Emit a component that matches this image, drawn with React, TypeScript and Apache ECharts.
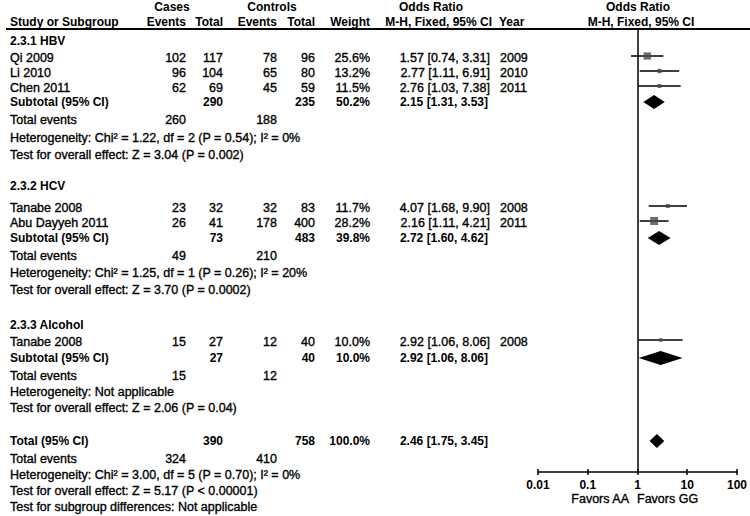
import React, { useEffect, useRef } from "react";
import * as echarts from "echarts";

// ---------- data ----------
const studyNames = ["Qi 2009", "Li 2010", "Chen 2011", "Tanabe 2008", "Abu Dayyeh 2011", "Tanabe 2008"];
const studyGroup = [0, 0, 0, 1, 1, 2];
const casesEvents = [102, 96, 62, 23, 26, 15];
const casesTotal = [117, 104, 69, 32, 41, 27];
const controlsEvents = [78, 65, 45, 32, 178, 12];
const controlsTotal = [96, 80, 59, 83, 400, 40];
const studyWeight = [25.6, 13.2, 11.5, 11.7, 28.2, 10.0];
const studyOR = [1.57, 2.77, 2.76, 4.07, 2.16, 2.92];
const studyLow = [0.74, 1.11, 1.03, 1.68, 1.11, 1.06];
const studyHigh = [3.31, 6.91, 7.38, 9.9, 4.21, 8.06];
const studyYear = [2009, 2010, 2011, 2008, 2011, 2008];

const groupNames = ["2.3.1 HBV", "2.3.2 HCV", "2.3.3 Alcohol"];
const groupCasesTotal = [290, 73, 27];
const groupControlsTotal = [235, 483, 40];
const groupWeight = [50.2, 39.8, 10.0];
const groupOR = [2.15, 2.72, 2.92];
const groupLow = [1.31, 1.6, 1.06];
const groupHigh = [3.53, 4.62, 8.06];
const groupCasesEvents = [260, 49, 15];
const groupControlsEvents = [188, 210, 12];
const groupHeterogeneity = [
  "Heterogeneity: Chi² = 1.22, df = 2 (P = 0.54); I² = 0%",
  "Heterogeneity: Chi² = 1.25, df = 1 (P = 0.26); I² = 20%",
  "Heterogeneity: Not applicable",
];
const groupEffect = [
  "Test for overall effect: Z = 3.04 (P = 0.002)",
  "Test for overall effect: Z = 3.70 (P = 0.0002)",
  "Test for overall effect: Z = 2.06 (P = 0.04)",
];

const totalLabel = "Total (95% CI)";
const totalCases = 390;
const totalControls = 758;
const totalWeight = 100.0;
const totalOR = 2.46;
const totalLow = 1.75;
const totalHigh = 3.45;
const totalCasesEvents = 324;
const totalControlsEvents = 410;
const totalHeterogeneity = "Heterogeneity: Chi² = 3.00, df = 5 (P = 0.70); I² = 0%";
const totalEffect = "Test for overall effect: Z = 5.17 (P < 0.00001)";
const subgroupDifferences = "Test for subgroup differences: Not applicable";

const axisTickValues = [0.01, 0.1, 1, 10, 100];
const axisTickLabels = ["0.01", "0.1", "1", "10", "100"];
const favorsLeft = "Favors AA";
const favorsRight = "Favors GG";

// ---------- layout ----------
const FONT = '"Liberation Sans", Arial, Helvetica, sans-serif';
const LINE_Y = [41, 58, 73, 88, 102, 120, 138, 155, 186, 208, 223, 238, 256, 273, 290, 325, 342, 358, 376, 392, 408, 441, 459, 475, 491, 507];
const MARK_SHIFT = -2;
const COL = { name: 10, cEv: 186, cTot: 223, kEv: 277, kTot: 315, wt: 370, or: 490, year: 500 };
const GRID = { left: 538, right: 12, top: 29, bottom: 44 };
const Y_MIN = 29;
const Y_MAX = 472;

function txt(text: string, x: number, y: number, align = "left", bold = false) {
  return {
    type: "text",
    x,
    y,
    silent: true,
    style: {
      text,
      fill: "#000",
      stroke: bold ? undefined : "#000",
      lineWidth: bold ? 0 : 0.35,
      font: bold ? `bold 12px ${FONT}` : `12.5px ${FONT}`,
      textAlign: align,
      textVerticalAlign: "middle",
      align,
      verticalAlign: "middle",
    },
  };
}

const fmtOR = (o: number, l: number, h: number) => `${o.toFixed(2)} [${l.toFixed(2)}, ${h.toFixed(2)}]`;
const fmtW = (w: number) => `${w.toFixed(1)}%`;

export default function App() {
  const ref = useRef<HTMLDivElement>(null);

  useEffect(() => {
    document.body.style.margin = "0";
    const chart = echarts.init(ref.current!, null, { renderer: "svg" });

    const texts: any[] = [];
    const ciData: number[][] = [];
    const sqData: any[] = [];
    const diaData: number[][] = [];

    // headers
    texts.push(txt("Cases", 172, 7, "center", true));
    texts.push(txt("Controls", 272, 7, "center", true));
    texts.push(txt("Odds Ratio", 431, 7, "center", true));
    texts.push(txt("Odds Ratio", 638, 7, "center", true));
    texts.push(txt("Study or Subgroup", COL.name, 22, "left", true));
    texts.push(txt("Events", COL.cEv, 22, "right", true));
    texts.push(txt("Total", COL.cTot, 22, "right", true));
    texts.push(txt("Events", COL.kEv, 22, "right", true));
    texts.push(txt("Total", COL.kTot, 22, "right", true));
    texts.push(txt("Weight", COL.wt, 22, "right", true));
    texts.push(txt("M-H, Fixed, 95% CI", COL.or + 2, 22, "right", true));
    texts.push(txt("Year", COL.year - 1, 22, "left", true));
    texts.push(txt("M-H, Fixed, 95% CI", 641, 22, "center", true));

    let li = 0;
    let s = 0;
    groupNames.forEach((g, gi) => {
      texts.push(txt(g, COL.name, LINE_Y[li++], "left", true));
      while (s < studyNames.length && studyGroup[s] === gi) {
        const y = LINE_Y[li++];
        texts.push(txt(studyNames[s], COL.name, y));
        texts.push(txt(String(casesEvents[s]), COL.cEv, y, "right"));
        texts.push(txt(String(casesTotal[s]), COL.cTot, y, "right"));
        texts.push(txt(String(controlsEvents[s]), COL.kEv, y, "right"));
        texts.push(txt(String(controlsTotal[s]), COL.kTot, y, "right"));
        texts.push(txt(fmtW(studyWeight[s]), COL.wt, y, "right"));
        texts.push(txt(fmtOR(studyOR[s], studyLow[s], studyHigh[s]), COL.or, y, "right"));
        texts.push(txt(String(studyYear[s]), COL.year, y));
        ciData.push([studyLow[s], studyHigh[s], y + MARK_SHIFT]);
        sqData.push({ value: [studyOR[s], y + MARK_SHIFT], symbolSize: 1.2 + studyWeight[s] * 0.24 });
        s++;
      }
      let y = LINE_Y[li++];
      texts.push(txt("Subtotal (95% CI)", COL.name, y, "left", true));
      texts.push(txt(String(groupCasesTotal[gi]), COL.cTot, y, "right", true));
      texts.push(txt(String(groupControlsTotal[gi]), COL.kTot, y, "right", true));
      texts.push(txt(fmtW(groupWeight[gi]), COL.wt, y, "right", true));
      texts.push(txt(fmtOR(groupOR[gi], groupLow[gi], groupHigh[gi]), COL.or - 2, y, "right", true));
      diaData.push([groupLow[gi], groupOR[gi], groupHigh[gi], y]);
      y = LINE_Y[li++];
      texts.push(txt("Total events", COL.name, y));
      texts.push(txt(String(groupCasesEvents[gi]), COL.cEv, y, "right"));
      texts.push(txt(String(groupControlsEvents[gi]), COL.kEv, y, "right"));
      texts.push(txt(groupHeterogeneity[gi], COL.name, LINE_Y[li++]));
      texts.push(txt(groupEffect[gi], COL.name, LINE_Y[li++]));
    });

    let y = LINE_Y[li++];
    texts.push(txt(totalLabel, COL.name, y, "left", true));
    texts.push(txt(String(totalCases), COL.cTot, y, "right", true));
    texts.push(txt(String(totalControls), COL.kTot, y, "right", true));
    texts.push(txt(fmtW(totalWeight), COL.wt, y, "right", true));
    texts.push(txt(fmtOR(totalOR, totalLow, totalHigh), COL.or - 2, y, "right", true));
    diaData.push([totalLow, totalOR, totalHigh, y]);
    y = LINE_Y[li++];
    texts.push(txt("Total events", COL.name, y));
    texts.push(txt(String(totalCasesEvents), COL.cEv, y, "right"));
    texts.push(txt(String(totalControlsEvents), COL.kEv, y, "right"));
    texts.push(txt(totalHeterogeneity, COL.name, LINE_Y[li++]));
    texts.push(txt(totalEffect, COL.name, LINE_Y[li++]));
    texts.push(txt(subgroupDifferences, COL.name, LINE_Y[li++]));

    texts.push(txt(favorsLeft, 629, 499, "right"));
    texts.push(txt(favorsRight, 637, 499, "left"));

    const headerLine = {
      type: "line",
      silent: true,
      shape: { x1: 6, y1: 29, x2: 750, y2: 29 },
      style: { stroke: "#000", lineWidth: 2 },
    };

    const tickFormatter = (v: number) => {
      const i = axisTickValues.findIndex((t) => Math.abs(Math.log10(t) - Math.log10(v)) < 1e-6);
      return i >= 0 ? axisTickLabels[i] : "";
    };

    const xBase = {
      type: "log",
      logBase: 10,
      min: 0.01,
      max: 100,
      gridIndex: 0,
      position: "bottom",
      splitLine: { show: false },
      minorTick: { show: false },
    };

    chart.setOption({
      animation: false,
      grid: { ...GRID, containLabel: false },
      xAxis: [
        {
          ...xBase,
          axisLine: { show: true, lineStyle: { color: "#000", width: 1.5 } },
          axisTick: { show: true, length: 3, lineStyle: { color: "#000", width: 1.5 } },
          axisLabel: {
            show: true,
            formatter: tickFormatter,
            color: "#000",
            fontSize: 12,
            fontWeight: "bold",
            fontFamily: FONT,
            margin: 7,
          },
        },
        {
          ...xBase,
          axisLine: { show: false },
          axisTick: { show: true, inside: true, length: 3, lineStyle: { color: "#000", width: 1.5 } },
          axisLabel: { show: false },
        },
      ],
      yAxis: { type: "value", inverse: true, min: Y_MIN, max: Y_MAX, show: false },
      series: [
        {
          type: "custom",
          name: "ci",
          xAxisIndex: 0,
          encode: { x: [0, 1], y: 2 },
          data: ciData,
          renderItem: (_p: any, api: any) => {
            const a = api.coord([api.value(0), api.value(2)]);
            const b = api.coord([api.value(1), api.value(2)]);
            return {
              type: "line",
              shape: { x1: a[0], y1: a[1], x2: b[0], y2: b[1] },
              style: { stroke: "#000", lineWidth: 1.5 },
            };
          },
          silent: true,
        },
        {
          type: "scatter",
          name: "studies",
          xAxisIndex: 0,
          symbol: "rect",
          data: sqData,
          itemStyle: { color: "#4a4a4a" },
          silent: true,
          markLine: {
            silent: true,
            symbol: ["none", "none"],
            label: { show: false },
            lineStyle: { color: "#000", width: 1.5, type: "solid" },
            data: [{ xAxis: 1 }],
          },
        },
        {
          type: "custom",
          name: "pooled",
          xAxisIndex: 0,
          encode: { x: [0, 1, 2], y: 3 },
          data: diaData,
          renderItem: (_p: any, api: any) => {
            const yy = api.value(3);
            const l = api.coord([api.value(0), yy]);
            const c = api.coord([api.value(1), yy]);
            const r = api.coord([api.value(2), yy]);
            return {
              type: "polygon",
              shape: { points: [[l[0], l[1]], [c[0], c[1] - 7], [r[0], r[1]], [c[0], c[1] + 7]] },
              style: { fill: "#000" },
            };
          },
          silent: true,
        },
      ],
      graphic: [headerLine, ...texts],
    });

    return () => chart.dispose();
  }, []);

  return <div ref={ref} style={{ position: "absolute", left: 0, top: 0, width: 750, height: 516, background: "#fff" }} />;
}
